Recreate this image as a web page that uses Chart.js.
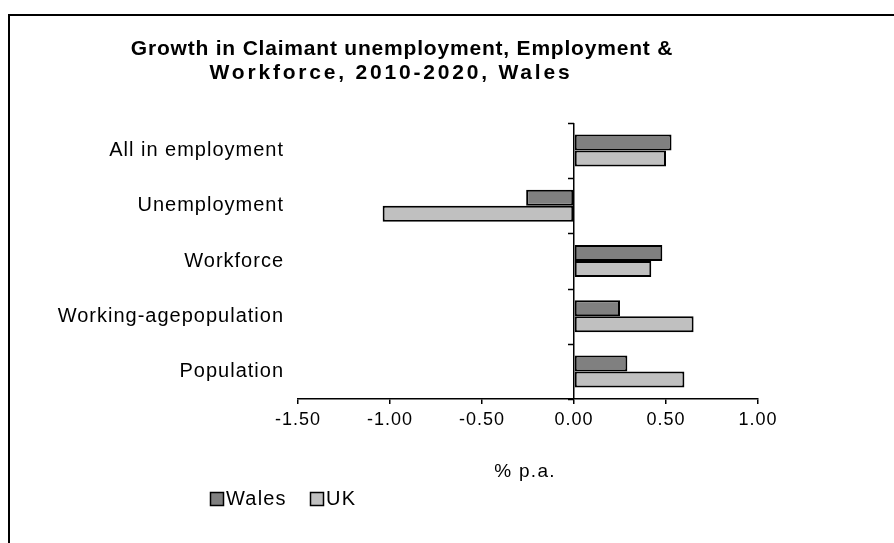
<!DOCTYPE html>
<html>
<head>
<meta charset="utf-8">
<title>Growth in Claimant unemployment, Employment &amp; Workforce, 2010-2020, Wales</title>
<script src="https://cdn.jsdelivr.net/npm/chart.js@4.4.1/dist/chart.umd.min.js"></script>
<style>
  html, body { margin: 0; padding: 0; background: #fff; overflow: hidden; }
  #frame { position: absolute; left: 8px; top: 14px; width: 1000px; height: 1000px; border: 2px solid #000; box-sizing: border-box; }
  #chart { position: absolute; left: 0; top: 0; }
</style>
</head>
<body>
<div id="frame"></div>
<canvas id="chart" width="894" height="543"></canvas>
<script>
// データ
const categories = ["All in employment", "Unemployment", "Workforce", "Working-agepopulation", "Population"];
const walesValues = [0.53, -0.26, 0.48, 0.25, 0.29];
const ukValues = [0.50, -1.04, 0.42, 0.65, 0.60];
const xTickValues = [-1.5, -1.0, -0.5, 0, 0.5, 1.0];
const xTickLabels = ["-1.50", "-1.00", "-0.50", "0.00", "0.50", "1.00"];
const seriesNames = ["Wales", "UK"];
const seriesColors = ["#808080", "#c0c0c0"];
const titleLines = ["Growth in Claimant unemployment, Employment &", "Workforce, 2010-2020, Wales"];
const xAxisTitle = "% p.a.";

Chart.defaults.font.family = '"Liberation Sans", Arial, sans-serif';
Chart.defaults.color = "#000";

// Excel風の文字間隔・タイトル・凡例など
const excelPlugin = {
  id: "excelLook",
  beforeUpdate(chart) {
    chart.ctx.letterSpacing = "1px";
  },
  beforeDraw(chart) {
    chart.ctx.letterSpacing = "1px";
  },
  afterDraw(chart) {
    const ctx = chart.ctx;
    const xs = chart.scales.x;
    const ys = chart.scales.y;
    ctx.save();

    // カテゴリ境界の目盛り（ゼロ線の左側）
    const x0 = xs.getPixelForValue(0);
    ctx.strokeStyle = "#000";
    ctx.lineWidth = 1.5;
    for (let i = 0; i <= categories.length; i++) {
      const y = Math.round(ys.getPixelForValue(i - 0.5)) + 0.5;
      ctx.beginPath();
      ctx.moveTo(x0 - 6, y);
      ctx.lineTo(x0, y);
      ctx.stroke();
    }

    // タイトル
    ctx.fillStyle = "#000";
    ctx.textAlign = "center";
    ctx.textBaseline = "middle";
    ctx.font = 'bold 21px "Liberation Sans", Arial, sans-serif';
    ctx.letterSpacing = "0.8px";
    ctx.fillText(titleLines[0], 402, 49);
    ctx.letterSpacing = "2.8px";
    ctx.fillText(titleLines[1], 391, 73);

    // X軸タイトル
    ctx.font = '19px "Liberation Sans", Arial, sans-serif';
    ctx.letterSpacing = "1.3px";
    ctx.fillText(xAxisTitle, (chart.chartArea.left + chart.chartArea.right) / 2 - 3, 472);

    // 凡例
    ctx.textAlign = "left";
    ctx.font = '20px "Liberation Sans", Arial, sans-serif';
    ctx.letterSpacing = "1.2px";
    const legendX = [210, 310];
    seriesNames.forEach((name, i) => {
      ctx.fillStyle = seriesColors[i];
      ctx.fillRect(legendX[i], 492, 14, 14);
      ctx.strokeStyle = "#000";
      ctx.lineWidth = 1.5;
      ctx.strokeRect(legendX[i] + 0.5, 492.5, 13, 13);
      ctx.fillStyle = "#000";
      ctx.fillText(name, legendX[i] + 16, 499);
    });

    ctx.restore();
  },
};

const chart = new Chart(document.getElementById("chart"), {
  type: "bar",
  data: {
    labels: categories,
    datasets: [
      {
        label: seriesNames[0],
        data: walesValues,
        backgroundColor: seriesColors[0],
        borderColor: "#000",
        borderWidth: 2,
        borderSkipped: false,
        barPercentage: 1,
        categoryPercentage: 0.58,
      },
      {
        label: seriesNames[1],
        data: ukValues,
        backgroundColor: seriesColors[1],
        borderColor: "#000",
        borderWidth: 2,
        borderSkipped: false,
        barPercentage: 1,
        categoryPercentage: 0.58,
      },
    ],
  },
  options: {
    indexAxis: "y",
    responsive: false,
    animation: false,
    layout: { padding: { top: 123, right: 136, left: 0, bottom: 0 } },
    plugins: {
      legend: { display: false },
      title: { display: false },
      tooltip: { enabled: false },
    },
    scales: {
      x: {
        min: -1.5,
        max: 1.0,
        afterBuildTicks: function (axis) {
          axis.ticks = xTickValues.map((v) => ({ value: v }));
        },
        ticks: {
          callback: function (value, index) {
            return xTickLabels[index];
          },
          font: { size: 18 },
          color: "#000",
          padding: 5,
          maxRotation: 0,
          autoSkip: false,
        },
        grid: {
          color: function (c) {
            return c.tick && c.tick.value === 0 ? "#000" : "rgba(0,0,0,0)";
          },
          tickColor: "#000",
          tickLength: 5,
          lineWidth: 1.5,
        },
        border: { color: "#000", width: 1.5 },
        afterFit: function (scale) {
          scale.height = 144;
        },
      },
      y: {
        grid: { display: false, drawTicks: false },
        border: { display: false },
        ticks: {
          font: { size: 20 },
          color: "#000",
          padding: 14,
          autoSkip: false,
        },
        afterFit: function (scale) {
          scale.width = 298;
        },
      },
    },
  },
  plugins: [excelPlugin],
});
</script>
</body>
</html>
